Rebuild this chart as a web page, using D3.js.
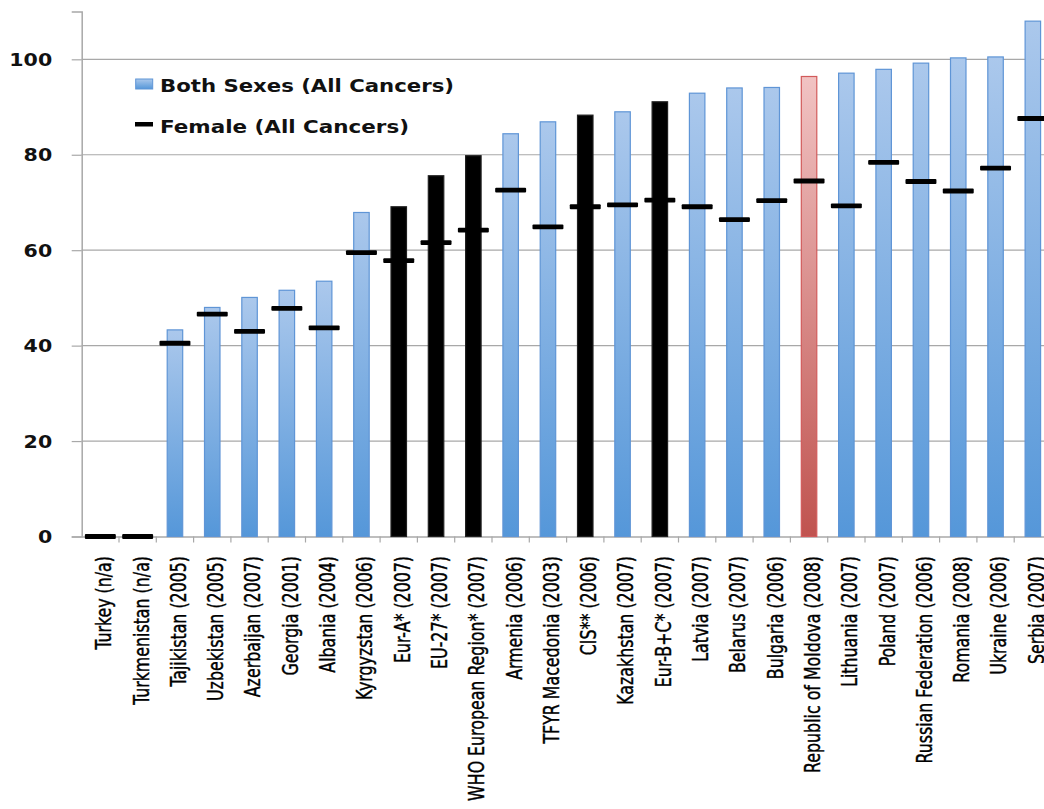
<!DOCTYPE html>
<html>
<head>
<meta charset="utf-8">
<script src="https://cdn.jsdelivr.net/npm/d3@7"></script>
<style>
  html, body { margin: 0; padding: 0; background: #fff; }
  svg { display: block; }
</style>
</head>
<body>
<svg id="chart" width="1044" height="809"></svg>
<script>
// ---- data ----
const categories = [
  "Turkey (n/a)", "Turkmenistan (n/a)", "Tajikistan (2005)", "Uzbekistan (2005)",
  "Azerbaijan (2007)", "Georgia (2001)", "Albania (2004)", "Kyrgyzstan (2006)",
  "Eur-A* (2007)", "EU-27* (2007)", "WHO European Region* (2007)", "Armenia (2006)",
  "TFYR Macedonia (2003)", "CIS** (2006)", "Kazakhstan (2007)", "Eur-B+C* (2007)",
  "Latvia (2007)", "Belarus (2007)", "Bulgaria (2006)", "Republic of Moldova (2008)",
  "Lithuania (2007)", "Poland (2007)", "Russian Federation (2006)", "Romania (2008)",
  "Ukraine (2006)", "Serbia (2007)"
];
const bothSexes = [0, 0, 43.3, 48.0, 50.1, 51.6, 53.5, 67.9, 69.1, 75.6, 79.8, 84.4,
  86.9, 88.3, 89.0, 91.1, 92.9, 94.0, 94.1, 96.4, 97.1, 97.9, 99.2, 100.3, 100.5, 108.0];
const female = [0, 0, 40.5, 46.6, 43.0, 47.8, 43.7, 59.5, 57.8, 61.6, 64.2, 72.6,
  64.9, 69.1, 69.5, 70.5, 69.1, 66.4, 70.4, 74.5, 69.3, 78.4, 74.4, 72.4, 77.2, 87.6];
const barGroup = ["country", "country", "country", "country", "country", "country", "country", "country",
  "aggregate", "aggregate", "aggregate", "country", "country", "aggregate", "country", "aggregate",
  "country", "country", "country", "highlight", "country", "country", "country", "country",
  "country", "country"];
const yTicks = [0, 20, 40, 60, 80, 100];
const legendLabels = ["Both Sexes (All Cancers)", "Female (All Cancers)"];

// ---- layout ----
const W = 1044, H = 809;
const plotLeft = 81.7, plotRight = 1051.5, plotTop = 11.6, plotBottom = 536.5;

const svg = d3.select("#chart");
const defs = svg.append("defs");

function grad(id, top, bottom) {
  const g = defs.append("linearGradient").attr("id", id)
    .attr("x1", 0).attr("y1", 0).attr("x2", 0).attr("y2", 1);
  g.append("stop").attr("offset", "0%").attr("stop-color", top);
  g.append("stop").attr("offset", "100%").attr("stop-color", bottom);
}
grad("gBlue", "#abc8ec", "#5597d9");
grad("gRed", "#f1c3c3", "#c0534f");

const style = {
  country: { fill: "url(#gBlue)", stroke: "#5f95d6" },
  aggregate: { fill: "#000000", stroke: "#202020" },
  highlight: { fill: "url(#gRed)", stroke: "#d25a5a" }
};

const x = d3.scaleBand().domain(categories)
  .range([plotLeft, plotRight]).paddingInner(0.585).paddingOuter(0.2925);
const y = d3.scaleLinear().domain([0, 110]).range([plotBottom, plotTop]);

// gridlines
svg.append("g").selectAll("line").data(yTicks.filter(d => d > 0)).join("line")
  .attr("x1", plotLeft).attr("x2", W)
  .attr("y1", d => y(d)).attr("y2", d => y(d))
  .attr("stroke", "#a8a8a8").attr("stroke-width", 1.2);

// y axis
const yAxis = svg.append("g").attr("transform", `translate(${plotLeft},0)`)
  .call(d3.axisLeft(y).tickValues(yTicks).tickSize(10).tickPadding(20));
yAxis.select(".domain").attr("stroke", "#a8a8a8").attr("stroke-width", 1.5);
yAxis.selectAll(".tick line").attr("stroke", "#a8a8a8").attr("stroke-width", 1.2);
yAxis.selectAll(".tick text")
  .attr("font-family", "'DejaVu Sans', Verdana, sans-serif")
  .attr("font-weight", "bold").attr("font-size", 17).attr("fill", "#111")
  .attr("x", 0).attr("dy", "0.36em")
  .attr("transform", "translate(-29.5,0) scale(1.21,1)");

// x axis
const xAxis = svg.append("g").attr("transform", `translate(0,${plotBottom})`)
  .call(d3.axisBottom(x).tickSize(0).tickFormat(""));
xAxis.select(".domain").attr("stroke", "#a8a8a8").attr("stroke-width", 1.5);
// band boundary ticks
const step = x.step();
svg.append("g").selectAll("line").data(categories).join("line")
  .attr("x1", d => x(d) + x.bandwidth() / 2 + step / 2)
  .attr("x2", d => x(d) + x.bandwidth() / 2 + step / 2)
  .attr("y1", plotBottom).attr("y2", plotBottom + 6)
  .attr("stroke", "#a8a8a8").attr("stroke-width", 1.2);

// bars
svg.append("g").selectAll("rect").data(categories).join("rect")
  .attr("x", d => x(d))
  .attr("width", x.bandwidth())
  .attr("y", (d, i) => y(bothSexes[i]))
  .attr("height", (d, i) => y(0) - y(bothSexes[i]))
  .attr("fill", (d, i) => style[barGroup[i]].fill)
  .attr("stroke", (d, i) => style[barGroup[i]].stroke)
  .attr("stroke-width", 1.2);

// female markers
const markW = step * 0.83, markH = 4.8;
svg.append("g").selectAll("rect").data(categories).join("rect")
  .attr("x", d => x(d) + x.bandwidth() / 2 - markW / 2)
  .attr("width", markW)
  .attr("y", (d, i) => y(female[i]) - markH / 2)
  .attr("height", markH)
  .attr("rx", 1)
  .attr("fill", "#000");

// x labels
const labelFont = "'Liberation Sans Narrow', 'Arial Narrow', 'DejaVu Sans Condensed', sans-serif";
const labels = svg.append("g").selectAll("text").data(categories).join("text")
  .attr("font-family", labelFont)
  .attr("font-size", 21.5)
  .attr("fill", "#000")
  .attr("stroke", "#000").attr("stroke-width", 0.35)
  .attr("text-anchor", "end")
  .attr("dy", "0.35em")
  .text(d => d);
// fit font size so the labels keep the reference's length, then restore glyph height
const probe = labels.filter(d => d === "Republic of Moldova (2008)").node();
const len = probe.getComputedTextLength();
const fs = 21.5 * 217 / len;
const sy = Math.max(1, 21 / fs);
labels.attr("font-size", fs)
  .attr("transform", d => `translate(${x(d) + x.bandwidth() / 2 + 3.5},556) rotate(-90) scale(1,${sy})`);

// legend
const lg = svg.append("g");
lg.append("rect").attr("x", 135.7).attr("y", 79).attr("width", 17).attr("height", 10)
  .attr("fill", "url(#gBlue)").attr("stroke", "#5f95d6").attr("stroke-width", 1);
lg.append("rect").attr("x", 135).attr("y", 122).attr("width", 18).attr("height", 4.5)
  .attr("fill", "#000");
const lgTexts = [[legendLabels[0], 91.5, 294], [legendLabels[1], 132.5, 249]];
lg.selectAll("text").data(lgTexts).join("text")
  .attr("x", 160).attr("y", d => d[1])
  .attr("font-family", "'DejaVu Sans', Verdana, sans-serif")
  .attr("font-weight", "bold").attr("font-size", 17).attr("fill", "#111")
  .attr("textLength", d => d[2]).attr("lengthAdjust", "spacingAndGlyphs")
  .text(d => d[0]);
</script>
</body>
</html>
